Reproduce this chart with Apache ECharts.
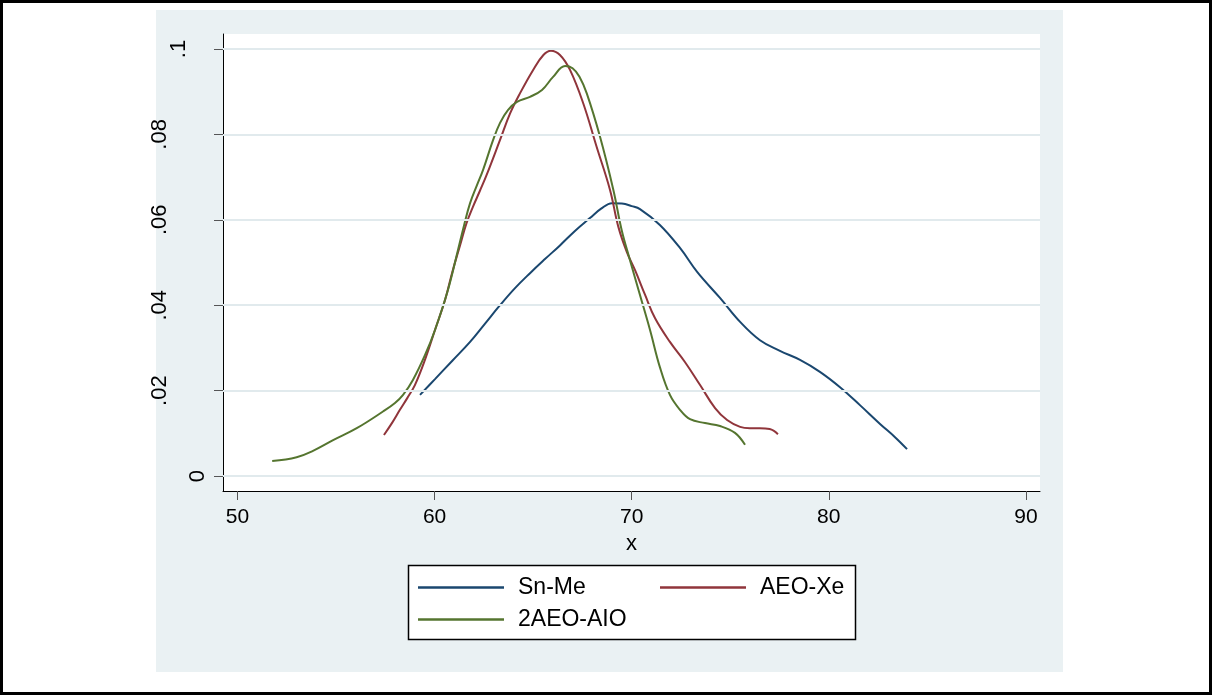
<!DOCTYPE html>
<html>
<head>
<meta charset="utf-8">
<script src="https://cdn.jsdelivr.net/npm/echarts@6/dist/echarts.min.js"></script>
<style>
html, body { margin: 0; padding: 0; background: #fff; }
#chart { width: 1213px; height: 696px; }
</style>
</head>
<body>
<div id="chart"></div>
<script>
// Axis ticks and their printed labels
const xTicks = [50, 60, 70, 80, 90];
const yTicks = [0, 0.02, 0.04, 0.06, 0.08, 0.1];
const yTickLabels = ['0', '.02', '.04', '.06', '.08', '.1'];
const seriesNames = ['Sn-Me', 'AEO-Xe', '2AEO-AIO'];

// Kernel density estimates, [x, density]
const snMe = [
  [59.26, 0.0190], [60.02, 0.0227], [60.90, 0.0270], [61.80, 0.0314],
  [62.56, 0.0357], [63.32, 0.0400], [64.08, 0.0440], [64.84, 0.0475],
  [65.60, 0.0508], [66.36, 0.0540], [67.12, 0.0574], [67.88, 0.0604],
  [68.45, 0.0626], [69.00, 0.0639], [69.50, 0.0638], [70.00, 0.0632],
  [70.42, 0.0625], [71.43, 0.0588], [72.45, 0.0534], [73.32, 0.0478],
  [74.48, 0.0417], [75.50, 0.0361], [76.51, 0.0318], [77.52, 0.0293],
  [78.54, 0.0272], [79.55, 0.0244], [80.57, 0.0208], [81.58, 0.0166],
  [82.60, 0.0122], [83.36, 0.0091], [83.97, 0.0063]
];
const aeoXe = [
  [57.43, 0.0096], [57.85, 0.0125], [58.24, 0.0155], [58.62, 0.0183],
  [59.00, 0.0213], [59.51, 0.0272], [60.02, 0.0342], [60.53, 0.0412],
  [60.90, 0.0478], [61.29, 0.0540], [61.62, 0.0592], [61.96, 0.0632],
  [62.30, 0.0668], [62.64, 0.0705], [63.32, 0.0787], [63.83, 0.0849],
  [64.33, 0.0896], [65.00, 0.0951], [65.52, 0.0986], [65.90, 0.0996],
  [66.36, 0.0986], [66.87, 0.0951], [67.54, 0.0873], [68.22, 0.0771],
  [68.90, 0.0670], [69.32, 0.0584], [69.75, 0.0525], [70.17, 0.0482],
  [70.68, 0.0424], [71.18, 0.0370], [71.94, 0.0314], [72.70, 0.0267],
  [73.47, 0.0213], [74.23, 0.0159], [74.84, 0.0131], [75.50, 0.0115],
  [76.00, 0.0112], [76.50, 0.0112], [77.00, 0.0110], [77.42, 0.0098]
];
const aeoAio = [
  [51.76, 0.0035], [53.00, 0.0044], [53.83, 0.0059], [54.85, 0.0084],
  [56.05, 0.0112], [57.38, 0.0151], [57.99, 0.0171], [58.40, 0.0190],
  [58.90, 0.0225], [59.51, 0.0283], [60.02, 0.0342], [60.68, 0.0436],
  [61.19, 0.0530], [61.50, 0.0588], [61.80, 0.0639], [62.14, 0.0680],
  [62.46, 0.0717], [62.97, 0.0787], [63.32, 0.0827], [63.72, 0.0857],
  [64.18, 0.0876], [64.84, 0.0888], [65.45, 0.0904], [66.00, 0.0934],
  [66.62, 0.0960], [67.00, 0.0955], [67.35, 0.0935], [67.72, 0.0896],
  [68.39, 0.0795], [69.07, 0.0670], [69.49, 0.0576], [69.91, 0.0506],
  [70.42, 0.0424], [70.93, 0.0342], [71.43, 0.0255], [71.94, 0.0190],
  [72.45, 0.0155], [72.96, 0.0133], [73.72, 0.0124], [74.48, 0.0117],
  [75.24, 0.0101], [75.75, 0.0073]
];

const colors = ['#1a476f', '#90353b', '#55752f'];
const FONT = '"Liberation Sans", Arial, Helvetica, sans-serif';

const chart = echarts.init(document.getElementById('chart'), null, { renderer: 'canvas' });

function lineSeries(name, data, color) {
  return {
    name: name,
    type: 'line',
    data: data,
    smooth: 0.4,
    showSymbol: false,
    symbol: 'none',
    z: 3,
    lineStyle: { color: color, width: 2 },
    itemStyle: { color: color },
    emphasis: { disabled: true }
  };
}

// Vertical y labels sit further from the axis the longer they are;
// each extra character pushes the label out by one blank line.
function yLabel(v) {
  const i = yTicks.findIndex(function (t) { return Math.abs(t - v) < 1e-9; });
  if (i < 0) return '';
  const s = yTickLabels[i];
  let out = s;
  for (let k = 1; k < s.length; k++) out += '\n ';
  return out;
}

const legendBase = {
  icon: 'rect',
  itemWidth: 86,
  itemHeight: 2.5,
  padding: 0,
  selectedMode: false,
  textStyle: { fontSize: 23, color: '#000', fontFamily: FONT, padding: [0, 0, 0, 9] }
};

chart.setOption({
  animation: false,
  backgroundColor: '#fff',
  textStyle: { fontFamily: FONT },
  graphic: [
    {
      type: 'rect', z: -20, silent: true,
      shape: { x: 1.5, y: 1.5, width: 1209, height: 692 },
      style: { fill: '#fff', stroke: '#000', lineWidth: 3 }
    },
    {
      type: 'rect', z: -10, silent: true,
      shape: { x: 156, y: 10, width: 907, height: 662 },
      style: { fill: '#EAF1F3' }
    },
    {
      type: 'rect', z: 3, silent: true,
      shape: { x: 408.5, y: 565.5, width: 447, height: 74 },
      style: { fill: '#fff', stroke: '#000', lineWidth: 1.5 }
    }
  ],
  grid: {
    left: 223, top: 34, width: 817, height: 457,
    show: true, backgroundColor: '#fff', borderWidth: 0,
    containLabel: false
  },
  legend: [
    Object.assign({ data: [seriesNames[0]], left: 418, top: 576 }, legendBase),
    Object.assign({ data: [seriesNames[1]], left: 660, top: 576 }, legendBase),
    Object.assign({ data: [seriesNames[2]], left: 418, top: 608 }, legendBase)
  ],
  xAxis: {
    type: 'value',
    min: 49.264, max: 90.716,
    name: 'x', nameLocation: 'middle', nameGap: 37,
    nameTextStyle: { fontSize: 22, color: '#000', fontFamily: FONT },
    axisLine: { show: true, onZero: false, lineStyle: { color: '#000', width: 1 } },
    axisTick: { show: true, inside: false, length: 9, customValues: xTicks, lineStyle: { color: '#555', width: 1 } },
    axisLabel: { customValues: xTicks, fontSize: 21, color: '#000', margin: 16, fontFamily: FONT },
    splitLine: { show: false }
  },
  yAxis: {
    type: 'value',
    min: -0.00351, max: 0.10351,
    axisLine: { show: true, onZero: false, lineStyle: { color: '#000', width: 1 } },
    axisTick: { show: true, inside: false, length: 9, customValues: yTicks, lineStyle: { color: '#555', width: 1 } },
    axisLabel: {
      customValues: yTicks, rotate: 90, fontSize: 22, lineHeight: 19,
      color: '#000', margin: 16, fontFamily: FONT,
      formatter: yLabel
    },
    splitLine: { show: false }
  },
  series: [
    {
      name: 'grid', type: 'line', data: [], z: 1, silent: true,
      markLine: {
        silent: true, symbol: 'none', animation: false,
        label: { show: false },
        lineStyle: { color: '#E1EAED', width: 2, type: 'solid' },
        emphasis: { disabled: true },
        data: yTicks.map(function (t) { return { yAxis: t }; })
      }
    },
    lineSeries(seriesNames[0], snMe, colors[0]),
    lineSeries(seriesNames[1], aeoXe, colors[1]),
    lineSeries(seriesNames[2], aeoAio, colors[2])
  ]
});
</script>
</body>
</html>
